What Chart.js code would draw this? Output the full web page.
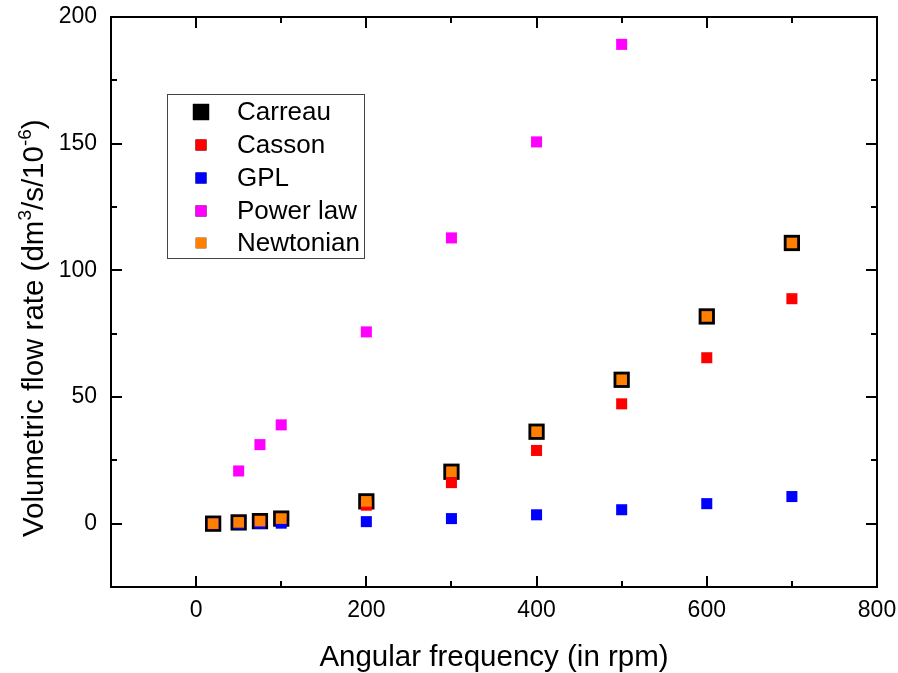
<!DOCTYPE html>
<html lang="en">

<head>
    <meta charset="UTF-8">
    <title>Volumetric flow rate</title>
    <script src="https://cdn.jsdelivr.net/npm/chart.js@4.4.1/dist/chart.umd.min.js"></script>
    <style>
        html, body { margin: 0; padding: 0; background: #fff; }
        canvas { display: block; }
    </style>
</head>

<body>
    <canvas id="flowChart" width="898" height="673"></canvas>

    <script>
        // data
        const frequencies = [20, 50, 75, 100, 200, 300, 400, 500, 600, 700];
        const carreau = [0, 0.5, 1.0, 2.0, 8.8, 20.5, 36.3, 56.8, 81.8, 110.8];
        const casson = [0, 0.4, 0.9, 1.7, 7.3, 16.2, 28.9, 47.3, 65.5, 88.8];
        const gpl = [0, 0.05, 0.1, 0.2, 0.8, 2.0, 3.5, 5.5, 7.9, 10.7];
        const newtonian = [0, 0.5, 1.0, 2.0, 8.8, 20.5, 36.3, 56.8, 81.8, 110.8];
        const powerLawFrequencies = [50, 75, 100, 200, 300, 400, 500];
        const powerLaw = [20.8, 31.2, 39.0, 75.7, 112.8, 150.7, 189.2];

        const xTicks = [0, 200, 400, 600, 800];
        const xMinorTicks = [100, 300, 500, 700];
        const yTicks = [0, 50, 100, 150, 200];
        const yMinorTicks = [25, 75, 125, 175];

        const FONT = '"Liberation Sans", Arial, sans-serif';

        const toPoints = (xs, ys) => xs.map((x, i) => ({ x: x, y: ys[i] }));

        const series = (label, xs, ys, color, radius, order) => ({
            label: label,
            data: toPoints(xs, ys),
            backgroundColor: color,
            borderColor: color,
            borderWidth: 0,
            pointStyle: 'rect',
            pointRadius: radius,
            pointHoverRadius: radius,
            order: order,
        });

        // frame with inward ticks on all four sides
        const framePlugin = {
            id: 'frame',
            beforeDatasetsDraw(chart) {
                const { ctx, chartArea: a, scales: { x, y } } = chart;
                ctx.save();
                ctx.strokeStyle = '#000';
                ctx.lineWidth = 2;
                ctx.strokeRect(a.left, a.top, a.right - a.left, a.bottom - a.top);
                ctx.beginPath();
                const xTick = (v, len) => {
                    const px = Math.round(x.getPixelForValue(v));
                    ctx.moveTo(px, a.bottom); ctx.lineTo(px, a.bottom - len);
                    ctx.moveTo(px, a.top); ctx.lineTo(px, a.top + len);
                };
                const yTick = (v, len) => {
                    const py = Math.round(y.getPixelForValue(v));
                    ctx.moveTo(a.left, py); ctx.lineTo(a.left + len, py);
                    ctx.moveTo(a.right, py); ctx.lineTo(a.right - len, py);
                };
                xTicks.forEach(v => xTick(v, 11));
                xMinorTicks.forEach(v => xTick(v, 6));
                yTicks.forEach(v => yTick(v, 11));
                yMinorTicks.forEach(v => yTick(v, 6));
                ctx.stroke();
                ctx.restore();
            },
            afterDraw(chart) {
                const { ctx } = chart;
                ctx.save();

                // y title with superscripts
                const parts = [
                    ['Volumetric flow rate (dm', false],
                    ['3', true],
                    ['/s/10', false],
                    ['-6', true],
                    [')', false],
                ];
                const big = '29.5px ' + FONT;
                const small = '19px ' + FONT;
                ctx.translate(43, 537);
                ctx.rotate(-Math.PI / 2);
                ctx.fillStyle = '#000';
                ctx.textBaseline = 'alphabetic';
                ctx.textAlign = 'left';
                let pos = 0;
                parts.forEach(([t, sup]) => {
                    ctx.font = sup ? small : big;
                    ctx.fillText(t, pos, sup ? -12 : 0);
                    pos += ctx.measureText(t).width;
                });
                ctx.restore();

                // legend box
                ctx.save();
                ctx.strokeStyle = '#444';
                ctx.lineWidth = 1;
                ctx.strokeRect(167.5, 94.5, 197, 164);
                const rows = [112, 145, 178, 211, 243];
                ctx.font = '26px ' + FONT;
                ctx.textBaseline = 'middle';
                chart.data.datasets.forEach((ds, i) => {
                    Chart.helpers.drawPoint(ctx, {
                        pointStyle: 'rect',
                        radius: ds.pointRadius,
                        borderWidth: 0,
                        rotation: 0,
                    }, 201, rows[i]);
                    ctx.fillStyle = ds.backgroundColor;
                    ctx.fill();
                    ctx.fillStyle = '#000';
                    ctx.fillText(ds.label, 237, rows[i] + 1);
                });
                ctx.restore();
            }
        };

        new Chart(document.getElementById('flowChart'), {
            type: 'scatter',
            data: {
                datasets: [
                    series('Carreau', frequencies, carreau, '#000000', 11.5, 5),
                    series('Casson', frequencies, casson, '#FF0000', 7.8, 3),
                    series('GPL', frequencies, gpl, '#0000FF', 7.8, 2),
                    series('Power law', powerLawFrequencies, powerLaw, '#FF00FF', 7.8, 4),
                    series('Newtonian', frequencies, newtonian, '#FF8000', 7.5, 1),
                ],
            },
            options: {
                responsive: false,
                animation: false,
                layout: { padding: { top: 17, right: 21, left: 0, bottom: 0 } },
                plugins: {
                    legend: { display: false },
                    tooltip: { enabled: false },
                },
                scales: {
                    x: {
                        type: 'linear',
                        min: -100,
                        max: 800,
                        afterBuildTicks: scale => { scale.ticks = xTicks.map(v => ({ value: v })); },
                        afterFit: scale => {
                            scale.height = 86;
                            scale.paddingLeft = 0;
                            scale.paddingRight = 0;
                        },
                        grid: { display: false, drawTicks: false },
                        border: { display: false },
                        ticks: {
                            padding: 10,
                            color: '#000',
                            maxRotation: 0,
                            font: { family: FONT, size: 23 },
                        },
                        title: {
                            display: true,
                            text: 'Angular frequency (in rpm)',
                            color: '#000',
                            font: { family: FONT, size: 29.5, lineHeight: 1 },
                            padding: { top: 0, bottom: 0 },
                        },
                    },
                    y: {
                        type: 'linear',
                        min: -25,
                        max: 200,
                        afterBuildTicks: scale => { scale.ticks = yTicks.map(v => ({ value: v })); },
                        afterFit: scale => {
                            scale.width = 111;
                            scale.paddingTop = 0;
                            scale.paddingBottom = 0;
                        },
                        grid: { display: false, drawTicks: false },
                        border: { display: false },
                        ticks: {
                            padding: 14,
                            color: '#000',
                            font: { family: FONT, size: 23 },
                        },
                    },
                },
            },
            plugins: [framePlugin],
        });
    </script>
</body>

</html>
